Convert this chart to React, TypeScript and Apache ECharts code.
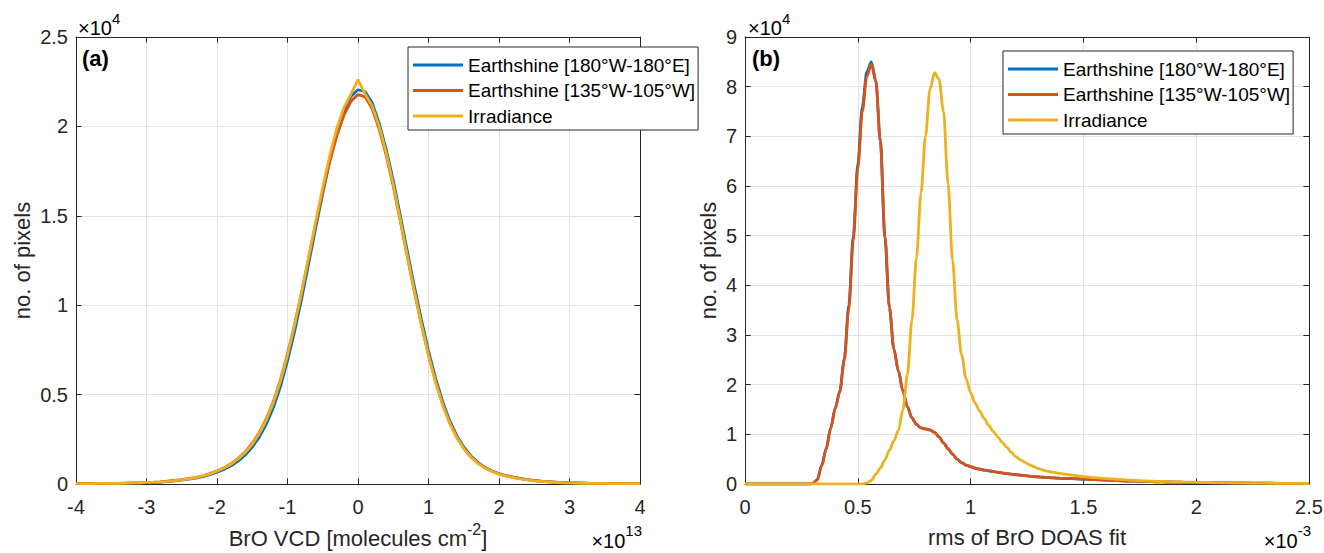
import React, { useEffect, useRef } from 'react';
import * as echarts from 'echarts';

const SERIES_NAMES = ['Earthshine [180°W-180°E]', 'Earthshine [135°W-105°W]', 'Irradiance'];
const COLORS = ['#0072BD', '#D95319', '#EDB120'];

// Panel (a): BrO VCD histogram (x in 1e13 molec/cm2, y in 1e4 pixels)
const VCD_X = [
  -4.0, -3.9, -3.8, -3.7, -3.6, -3.5, -3.4, -3.3, -3.2, -3.1, -3.0,
  -2.9, -2.8, -2.7, -2.6, -2.5, -2.4, -2.3, -2.2, -2.1, -2.0,
  -1.9, -1.8, -1.7, -1.6, -1.5, -1.4, -1.3, -1.2, -1.1, -1.0,
  -0.9, -0.8, -0.7, -0.6, -0.5, -0.4, -0.3, -0.2, -0.1, 0.0,
  0.1, 0.2, 0.3, 0.4, 0.5, 0.6, 0.7, 0.8, 0.9, 1.0,
  1.1, 1.2, 1.3, 1.4, 1.5, 1.6, 1.7, 1.8, 1.9, 2.0,
  2.1, 2.2, 2.3, 2.4, 2.5, 2.6, 2.7, 2.8, 2.9, 3.0,
  3.1, 3.2, 3.3, 3.4, 3.5, 3.6, 3.7, 3.8, 3.9, 4.0,
];
const VCD_EARTH_ALL = [
  0.002, 0.002, 0.002, 0.003, 0.003, 0.003, 0.004, 0.004, 0.005, 0.006, 0.008,
  0.009, 0.011, 0.014, 0.018, 0.022, 0.027, 0.033, 0.041, 0.052, 0.066,
  0.082, 0.102, 0.128, 0.162, 0.206, 0.262, 0.335, 0.428, 0.545, 0.688,
  0.852, 1.035, 1.232, 1.432, 1.625, 1.808, 1.962, 2.088, 2.168, 2.205,
  2.195, 2.132, 2.018, 1.872, 1.698, 1.502, 1.302, 1.105, 0.918, 0.745,
  0.592, 0.462, 0.355, 0.272, 0.207, 0.158, 0.121, 0.093, 0.073, 0.058,
  0.047, 0.038, 0.031, 0.025, 0.02, 0.016, 0.013, 0.01, 0.008, 0.007,
  0.006, 0.005, 0.004, 0.004, 0.003, 0.003, 0.003, 0.002, 0.002, 0.002,
];
const VCD_EARTH_PAC = [
  0.002, 0.002, 0.002, 0.003, 0.003, 0.003, 0.004, 0.005, 0.006, 0.007, 0.009,
  0.01, 0.012, 0.016, 0.02, 0.024, 0.03, 0.037, 0.046, 0.058, 0.073,
  0.091, 0.114, 0.143, 0.18, 0.228, 0.288, 0.365, 0.462, 0.582, 0.728,
  0.892, 1.072, 1.262, 1.455, 1.638, 1.805, 1.948, 2.062, 2.14, 2.178,
  2.165, 2.1, 1.985, 1.838, 1.665, 1.47, 1.27, 1.075, 0.89, 0.722,
  0.572, 0.446, 0.343, 0.263, 0.2, 0.153, 0.117, 0.09, 0.071, 0.056,
  0.045, 0.037, 0.03, 0.024, 0.019, 0.015, 0.012, 0.01, 0.008, 0.006,
  0.005, 0.005, 0.004, 0.003, 0.003, 0.003, 0.002, 0.002, 0.002, 0.002,
];
const VCD_IRRAD = [
  0.002, 0.002, 0.002, 0.003, 0.003, 0.003, 0.004, 0.005, 0.006, 0.007, 0.009,
  0.01, 0.012, 0.015, 0.019, 0.023, 0.029, 0.036, 0.045, 0.056, 0.071,
  0.089, 0.111, 0.14, 0.176, 0.222, 0.282, 0.358, 0.455, 0.575, 0.72,
  0.888, 1.072, 1.27, 1.468, 1.66, 1.838, 1.99, 2.105, 2.18, 2.262,
  2.182, 2.115, 2.0, 1.852, 1.675, 1.478, 1.275, 1.078, 0.89, 0.72,
  0.57, 0.443, 0.34, 0.26, 0.198, 0.151, 0.115, 0.089, 0.07, 0.055,
  0.044, 0.036, 0.029, 0.023, 0.018, 0.015, 0.012, 0.009, 0.007, 0.006,
  0.005, 0.004, 0.004, 0.003, 0.003, 0.002, 0.002, 0.002, 0.002, 0.002,
];

// Panel (b): rms of BrO DOAS fit (x in 1e-3, y in 1e4 pixels)
const RMS_X = [
  0, 0.1, 0.2, 0.25, 0.28,
  0.30, 0.32, 0.34, 0.36, 0.38, 0.40, 0.42, 0.44, 0.46, 0.48,
  0.50, 0.52, 0.54, 0.56, 0.58, 0.60, 0.62, 0.64, 0.66, 0.68,
  0.70, 0.72, 0.74, 0.76, 0.78, 0.80, 0.82, 0.84, 0.86, 0.88,
  0.90, 0.92, 0.94, 0.96, 0.98, 1.00, 1.02, 1.04, 1.06, 1.08,
  1.10, 1.12, 1.14, 1.16, 1.18, 1.20, 1.22, 1.24, 1.26, 1.28,
  1.30, 1.32, 1.34, 1.36, 1.38, 1.40,
  1.45, 1.50, 1.55, 1.60, 1.65, 1.70, 1.75, 1.80, 1.85, 1.90, 1.95, 2.00,
  2.1, 2.2, 2.3, 2.4, 2.5,
];
const RMS_EARTH_ALL = [
  0, 0, 0, 0, 0,
  0.01, 0.09, 0.38, 0.72, 1.13, 1.53, 1.87, 2.52, 3.6, 5.0,
  6.45, 7.6, 8.3, 8.5, 8.12, 6.9, 4.98, 3.55, 2.71, 2.27,
  1.87, 1.55, 1.33, 1.2, 1.13, 1.11, 1.09, 1.04, 0.95, 0.83,
  0.71, 0.6, 0.5, 0.43, 0.38, 0.35, 0.32, 0.3, 0.28, 0.265,
  0.25, 0.235, 0.222, 0.21, 0.2, 0.19, 0.18, 0.17, 0.16, 0.15,
  0.142, 0.136, 0.13, 0.125, 0.12, 0.115,
  0.107, 0.1, 0.088, 0.078, 0.068, 0.06, 0.054, 0.048, 0.043, 0.038, 0.034, 0.03,
  0.025, 0.02, 0.016, 0.013, 0.01,
];
const RMS_EARTH_PAC = [
  0, 0, 0, 0, 0,
  0.01, 0.08, 0.36, 0.7, 1.12, 1.52, 1.85, 2.48, 3.52, 4.9,
  6.35, 7.5, 8.2, 8.45, 8.1, 6.9, 5.0, 3.56, 2.72, 2.28,
  1.87, 1.55, 1.33, 1.2, 1.13, 1.11, 1.09, 1.04, 0.95, 0.83,
  0.71, 0.6, 0.5, 0.43, 0.38, 0.35, 0.32, 0.3, 0.28, 0.265,
  0.25, 0.235, 0.222, 0.21, 0.2, 0.19, 0.18, 0.17, 0.16, 0.15,
  0.142, 0.136, 0.13, 0.125, 0.12, 0.115,
  0.107, 0.1, 0.088, 0.078, 0.068, 0.06, 0.054, 0.048, 0.043, 0.038, 0.034, 0.03,
  0.025, 0.02, 0.016, 0.013, 0.01,
];
const RMS_IRRAD = [
  0, 0, 0, 0, 0,
  0, 0, 0, 0, 0, 0, 0, 0, 0, 0,
  0, 0, 0.02, 0.07, 0.2, 0.32, 0.48, 0.68, 0.87, 1.08,
  1.5, 2.2, 3.3, 4.55, 5.85, 7.0, 7.95, 8.28, 8.15, 7.5,
  6.05, 4.5, 3.3, 2.6, 2.12, 1.84, 1.63, 1.47, 1.32, 1.18,
  1.06, 0.95, 0.84, 0.74, 0.64, 0.55, 0.49, 0.44, 0.39, 0.35,
  0.31, 0.28, 0.26, 0.24, 0.225, 0.21,
  0.18, 0.15, 0.128, 0.11, 0.094, 0.08, 0.068, 0.058, 0.05, 0.043, 0.038, 0.034,
  0.027, 0.021, 0.017, 0.013, 0.01,
];

const AX = '#262626';
const GRID = '#e2e2e2';
const FONT = '"Liberation Sans", Arial, Helvetica, sans-serif';

const pairs = (xs: number[], ys: number[]) => xs.map((x, i) => [x, ys[i]]);

const fmt = (v: number) => String(Math.round(v * 1000) / 1000);

function xAxes(gridIndex: number, min: number, max: number, interval: number, name: string, rich: any, nameGap: number) {
  return [
    {
      gridIndex, type: 'value', min, max, interval, position: 'bottom',
      axisLine: { onZero: false, lineStyle: { color: AX, width: 1 } },
      axisTick: { inside: true, length: 5.6, lineStyle: { color: AX } },
      axisLabel: { color: AX, fontSize: 20, fontFamily: FONT, margin: 13, formatter: fmt },
      splitLine: { show: true, lineStyle: { color: GRID, width: 1 } },
      name, nameLocation: 'middle', nameGap,
      nameTextStyle: { color: AX, fontSize: 22, fontFamily: FONT, lineHeight: 22, rich },
    },
    {
      gridIndex, type: 'value', min, max, interval, position: 'top',
      axisLine: { onZero: false, lineStyle: { color: AX, width: 1 } },
      axisTick: { inside: true, length: 5.6, lineStyle: { color: AX } },
      axisLabel: { show: false },
      splitLine: { show: false },
    },
  ];
}

function yAxes(gridIndex: number, min: number, max: number, interval: number, nameGap: number) {
  return [
    {
      gridIndex, type: 'value', min, max, interval, position: 'left',
      axisLine: { show: true, onZero: false, lineStyle: { color: AX, width: 1 } },
      axisTick: { show: true, inside: true, length: 5.6, lineStyle: { color: AX } },
      axisLabel: { color: AX, fontSize: 20, fontFamily: FONT, margin: 8, formatter: fmt },
      splitLine: { show: true, lineStyle: { color: GRID, width: 1 } },
      name: 'no. of pixels', nameLocation: 'middle', nameGap,
      nameTextStyle: { color: AX, fontSize: 22, fontFamily: FONT },
    },
    {
      gridIndex, type: 'value', min, max, interval, position: 'right',
      axisLine: { show: true, onZero: false, lineStyle: { color: AX, width: 1 } },
      axisTick: { show: true, inside: true, length: 5.6, lineStyle: { color: AX } },
      axisLabel: { show: false },
      splitLine: { show: false },
    },
  ];
}

const supRich = (size: number, baseSize: number, pad: number) => ({
  a: { fontSize: baseSize, lineHeight: baseSize, color: AX, fontFamily: FONT, verticalAlign: 'bottom' },
  s: { fontSize: size, lineHeight: size, color: AX, fontFamily: FONT, verticalAlign: 'bottom', padding: [0, 0, pad, 0] },
});

function legendAt(left: number, top: number) {
  return {
    left, top, orient: 'vertical',
    padding: [7, 3, 3, 5], itemGap: 3.5,
    itemWidth: 50, itemHeight: 3, icon: 'rect',
    borderColor: AX, borderWidth: 1, backgroundColor: '#ffffff',
    textStyle: { fontSize: 19, color: '#000', fontFamily: FONT, lineHeight: 22 },
    data: SERIES_NAMES,
  };
}

function lineSeries(name: string, color: string, data: number[][], xi: number, yi: number, smooth: number) {
  return {
    name, type: 'line', data, xAxisIndex: xi, yAxisIndex: yi,
    showSymbol: false, symbol: 'none', color,
    smooth, smoothMonotone: 'x',
    lineStyle: { color, width: 2.8 }, clip: true,
  };
}

function buildOption() {
  return {
    animation: false,
    backgroundColor: '#ffffff',
    textStyle: { fontFamily: FONT },
    grid: [
      { left: 76, top: 37, width: 564, height: 447, containLabel: false, outerBoundsMode: 'none' },
      { left: 745, top: 37, width: 564, height: 447, containLabel: false, outerBoundsMode: 'none' },
    ],
    xAxis: [
      ...xAxes(0, -4, 4, 1, '{a|BrO VCD [molecules cm}{s|-2}{a|]}', supRich(16, 22, 12), 40),
      ...xAxes(1, 0, 2.5, 0.5, 'rms of BrO DOAS fit', undefined, 42),
    ],
    yAxis: [
      ...yAxes(0, 0, 2.5, 0.5, 43),
      ...yAxes(1, 0, 9, 1, 26),
    ],
    legend: [legendAt(408, 47), legendAt(1003, 51)],
    series: [
      lineSeries(SERIES_NAMES[0], COLORS[0], pairs(VCD_X, VCD_EARTH_ALL), 0, 0, 0),
      lineSeries(SERIES_NAMES[1], COLORS[1], pairs(VCD_X, VCD_EARTH_PAC), 0, 0, 0),
      lineSeries(SERIES_NAMES[2], COLORS[2], pairs(VCD_X, VCD_IRRAD), 0, 0, 0),
      lineSeries(SERIES_NAMES[0], COLORS[0], pairs(RMS_X, RMS_EARTH_ALL), 2, 2, 0.3),
      lineSeries(SERIES_NAMES[1], COLORS[1], pairs(RMS_X, RMS_EARTH_PAC), 2, 2, 0.3),
      lineSeries(SERIES_NAMES[2], COLORS[2], pairs(RMS_X, RMS_IRRAD), 2, 2, 0.3),
    ],
    graphic: [
      { type: 'text', left: 78, top: 11, style: { text: '{a|×10}{s|4}', rich: supRich(15, 20, 12) } },
      { type: 'text', left: 748, top: 11, style: { text: '{a|×10}{s|4}', rich: supRich(15, 20, 12) } },
      { type: 'text', right: 682, top: 523, style: { text: '{a|×10}{s|13}', rich: supRich(15, 20, 13) } },
      { type: 'text', right: 13, top: 523, style: { text: '{a|×10}{s|-3}', rich: supRich(15, 20, 13) } },
      { type: 'text', left: 82, top: 47, style: { text: '(a)', fontSize: 22, fontWeight: 'bold', fill: '#000', fontFamily: FONT } },
      { type: 'text', left: 752, top: 47, style: { text: '(b)', fontSize: 22, fontWeight: 'bold', fill: '#000', fontFamily: FONT } },
    ],
  };
}

export default function App() {
  const ref = useRef<HTMLDivElement>(null);
  useEffect(() => {
    document.body.style.margin = '0';
    const chart = echarts.init(ref.current as HTMLDivElement, null, { renderer: 'svg' });
    chart.setOption(buildOption() as any);
    return () => chart.dispose();
  }, []);
  return <div ref={ref} style={{ width: 1324, height: 553, background: '#fff' }} />;
}
